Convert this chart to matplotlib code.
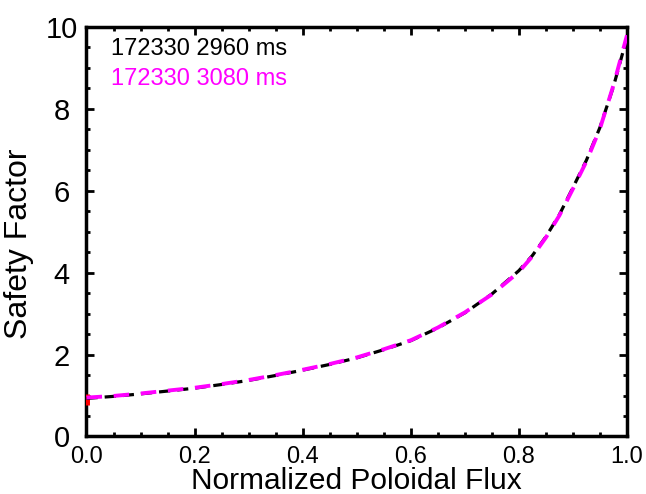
import matplotlib
matplotlib.use("Agg")
import matplotlib.pyplot as plt
from matplotlib.ticker import MultipleLocator

plt.rcParams["font.family"] = ["Liberation Sans", "DejaVu Sans"]

# q profiles vs normalized poloidal flux
psi_n = [0.0, 0.05, 0.1, 0.15, 0.2, 0.25, 0.3, 0.35, 0.4, 0.45, 0.5,
         0.55, 0.6, 0.65, 0.7, 0.75, 0.8, 0.825, 0.85, 0.875, 0.9,
         0.925, 0.95, 0.975, 1.0]
q_2960 = [0.93, 0.98, 1.04, 1.11, 1.18, 1.27, 1.37, 1.49, 1.62, 1.76, 1.92,
          2.12, 2.34, 2.65, 3.02, 3.48, 4.05, 4.42, 4.88, 5.42, 6.08,
          6.75, 7.55, 8.55, 9.75]
q_3080 = [0.95, 0.99, 1.05, 1.12, 1.19, 1.28, 1.38, 1.50, 1.63, 1.77, 1.93,
          2.13, 2.35, 2.66, 3.03, 3.47, 4.02, 4.40, 4.86, 5.40, 6.05,
          6.72, 7.52, 8.58, 9.80]
q0_err = [0.76, 1.05]

labels = ["172330 2960 ms", "172330 3080 ms"]

fig = plt.figure(figsize=(6.46, 4.94), dpi=100)
ax = fig.add_axes([0.1339, 0.1164, 0.8367, 0.8289])

ax.plot([0, 0], q0_err, color="red", lw=5, solid_capstyle="butt", zorder=3)
ax.plot(psi_n, q_2960, color="black", lw=2.3, dashes=(3.5, 2.2), zorder=4)
ax.plot(psi_n, q_3080, color="#ff00ff", lw=2.8, dashes=(4.0, 3.0), zorder=5)

ax.set_xlim(0, 1)
ax.set_ylim(0, 10)
ax.xaxis.set_minor_locator(MultipleLocator(0.05))
ax.yaxis.set_major_locator(MultipleLocator(2))
ax.yaxis.set_minor_locator(MultipleLocator(0.5))
ax.set_xticks([0, 0.2, 0.4, 0.6, 0.8, 1.0])
ax.set_xticklabels(["0.0", "0.2", "0.4", "0.6", "0.8", "1.0"])

for s in ax.spines.values():
    s.set_linewidth(2.5)
ax.tick_params(which="both", direction="in", top=True, right=True, width=2)
ax.tick_params(which="major", length=5.5)
ax.tick_params(which="minor", length=3)
ax.tick_params(axis="x", which="major", labelsize=17, pad=7)
ax.tick_params(axis="y", which="major", labelsize=21, pad=18)
for lbl in ax.get_yticklabels():
    lbl.set_horizontalalignment("center")

ax.set_xlabel("Normalized Poloidal Flux", fontsize=21.5)
ax.set_ylabel("Safety Factor", fontsize=23)
ax.xaxis.set_label_coords(0.5, -0.075)
ax.yaxis.set_label_coords(-0.098, 0.47)

ax.text(0.046, 0.946, labels[0], transform=ax.transAxes, fontsize=17,
        color="black", va="center", ha="left")
ax.text(0.046, 0.873, labels[1], transform=ax.transAxes, fontsize=17,
        color="#ff00ff", va="center", ha="left")

fig.savefig("out.png", dpi=100)
